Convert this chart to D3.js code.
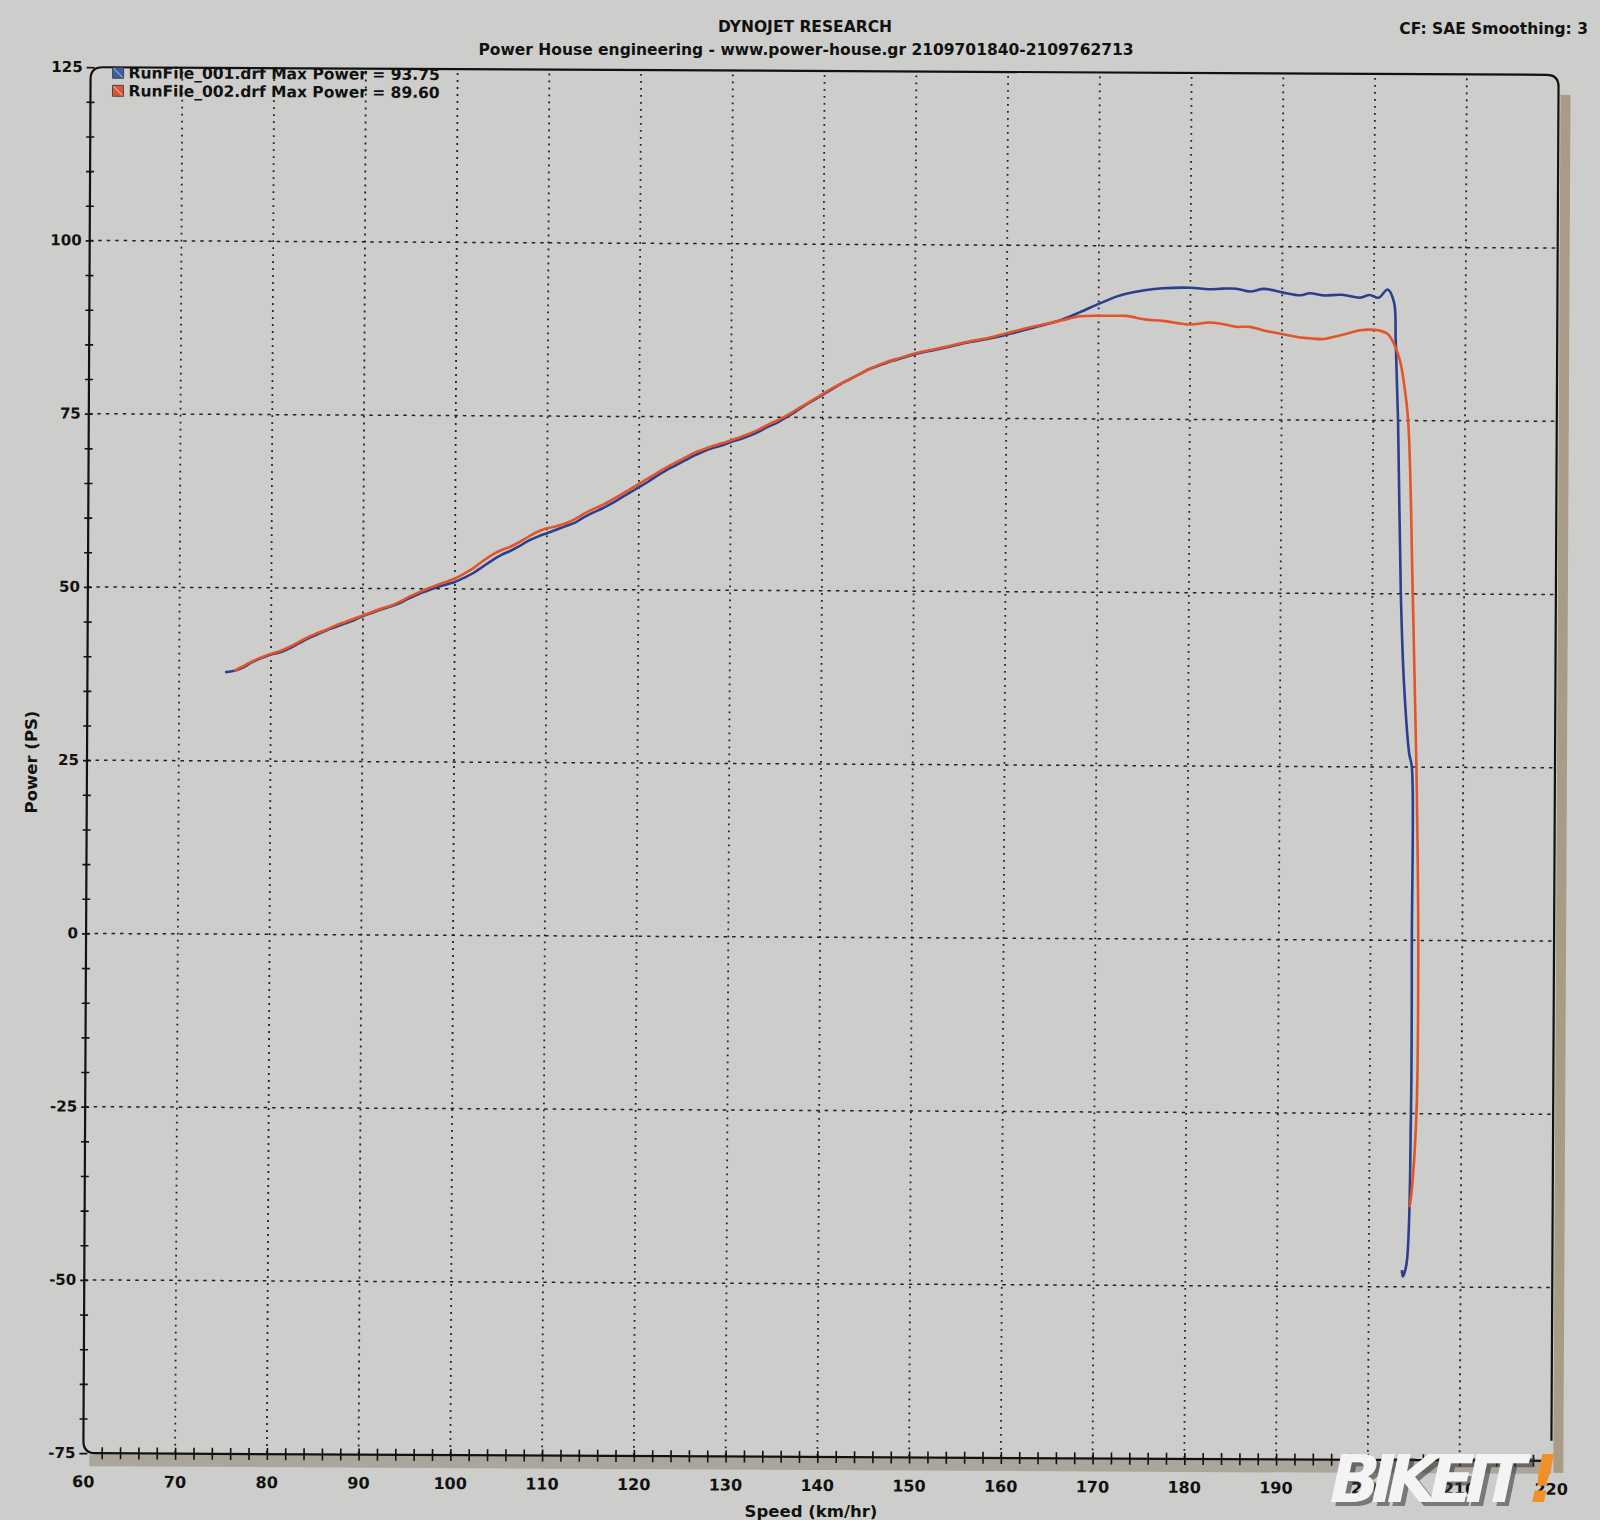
<!DOCTYPE html>
<html><head><meta charset="utf-8">
<script src="https://cdn.jsdelivr.net/npm/d3@7"></script>
<style>
html,body{margin:0;padding:0;background:#cdcecb;}
svg{display:block;}
text{font-family:"DejaVu Sans",sans-serif;font-weight:bold;fill:#111;}
</style></head><body>
<svg id="c" width="1600" height="1520"></svg>
<script>
// ---------- data ----------
const xTicks = [60,70,80,90,100,110,120,130,140,150,160,170,180,190,200,210,220];
const yTicks = [125,100,75,50,25,0,-25,-50,-75];
const legendLabels = ["RunFile_001.drf Max Power = 93.75","RunFile_002.drf Max Power = 89.60"];
const seriesColors = ["#2c3f8e","#e2542a"];

const run1Speed = [75,76,77,78,79,80,81,82,83,84,85,86,87,88,89,90,91,92,93,94,95,96,97,98,99,100,101,102,103,104,105,106,107,108,109,110,111,112,113,114,115,116,117,118,119,120,121,122,123,124,125,126,127,128,129,130,131,132,133,134,135,136,137,138,139,140,141,142,143,144,145,146,147,148,149,150,152,154,156,158,160,162,164,166,168,170,172,173,175,177,180,182,183.5,185,186.5,188,190,192,193,194.5,196.5,198.5,199.5,200.5,201.5,202.2,202.4,202.7,203.1,203.5,204.1,204.4,204.5,204.5,204.1,203.7,203.6];
const run1Power = [37.8,38.0,38.5,39.3,39.9,40.4,40.7,41.3,42.0,42.7,43.3,43.9,44.4,44.9,45.4,46.0,46.5,47.0,47.4,47.9,48.6,49.2,49.7,50.2,50.6,51.0,51.6,52.3,53.2,54.1,54.9,55.5,56.2,57.0,57.6,58.1,58.6,59.1,59.6,60.4,61.1,61.7,62.4,63.2,64.0,64.8,65.6,66.5,67.3,68.0,68.7,69.4,70.0,70.5,70.9,71.4,71.8,72.3,72.9,73.6,74.2,75.0,75.8,76.7,77.5,78.3,79.1,79.9,80.6,81.3,82.0,82.5,83.0,83.4,83.8,84.2,84.8,85.4,86.0,86.5,87.1,87.8,88.5,89.3,90.4,91.6,92.7,93.1,93.6,93.9,94.0,93.8,93.9,93.9,93.5,93.9,93.4,93.0,93.3,93.0,93.1,92.7,93.1,92.7,93.9,92.0,86.4,75,50,37,27,25,0,-25,-46.7,-48.5,-47.6];

const run2Speed = [76,77,78,79,80,81,82,83,84,85,86,87,88,89,90,91,92,93,94,95,96,97,98,99,100,101,102,103,104,105,106,107,108,109,110,111,112,113,114,115,116,117,118,119,120,121,122,123,124,125,126,127,128,129,130,131,132,133,134,135,136,137,138,139,140,141,142,143,144,145,146,147,148,149,150,152,154,156,158,160,162,164,166,168,170,172,173,175,177,180,182,183.5,185,186.5,188,190,192,193,194.5,196.5,198.5,199.5,200.5,201.5,202.2,202.9,203.3,203.8,204.4,204.9,205.2,205.1,204.6,204.4];
const run2Power = [38.0,38.7,39.4,40.0,40.5,40.9,41.5,42.2,42.9,43.5,44.0,44.6,45.1,45.6,46.1,46.6,47.1,47.5,48.1,48.8,49.4,50.0,50.5,51.0,51.5,52.2,53.0,54.0,54.9,55.6,56.1,56.8,57.6,58.3,58.8,59.1,59.5,60.1,60.9,61.6,62.2,62.9,63.7,64.5,65.3,66.1,66.9,67.7,68.4,69.1,69.8,70.3,70.8,71.2,71.6,72.1,72.6,73.2,73.9,74.5,75.2,76.0,76.8,77.6,78.4,79.2,79.9,80.6,81.3,82.0,82.6,83.1,83.5,83.9,84.3,84.9,85.5,86.1,86.6,87.3,88.0,88.6,89.2,89.8,89.9,89.9,89.9,89.4,89.2,88.7,89.0,88.8,88.4,88.4,87.9,87.4,86.9,86.8,86.7,87.3,88.0,88.1,88.0,87.5,86.1,83.5,80.6,75,50,25,0,-25,-36.5,-38.5];

// ---------- layout ----------
const svg = d3.select("#c");
const L = 87, R = 1555, T = 71, B = 1457;
const x = d3.scaleLinear().domain([60,220]).range([L,R]);
const y = d3.scaleLinear().domain([-75,125]).range([B,T]);

const g = svg.append("g").attr("transform","rotate(0.3,820,760)");

// shadows
g.append("rect").attr("x",L+6).attr("y",B+1).attr("width",R-L-6).attr("height",12).attr("fill","#aaa69d");
g.append("rect").attr("x",R+2).attr("y",T+20).attr("width",10).attr("height",B-T-8).attr("fill","#a89c86");

// grid
g.append("g").selectAll("line").data(xTicks.filter(d=>d>60&&d<220)).join("line")
  .attr("x1",d=>x(d)).attr("x2",d=>x(d)).attr("y1",T+4).attr("y2",B)
  .attr("stroke","#222").attr("stroke-width",1.8).attr("stroke-dasharray","1.8,5.2");
g.append("g").selectAll("line").data(yTicks.filter(d=>d>-75&&d<125)).join("line")
  .attr("x1",L).attr("x2",R).attr("y1",d=>y(d)).attr("y2",d=>y(d))
  .attr("stroke","#222").attr("stroke-width",1.5).attr("stroke-dasharray","3.5,5");

// axes
const yAxis = d3.axisLeft(y).tickValues(d3.range(-75,126,5)).tickSize(0).tickFormat("");
const ya = g.append("g").attr("transform",`translate(${L},0)`).call(yAxis);
ya.select(".domain").remove();
ya.selectAll(".tick").append("line").attr("x1",-4).attr("x2",4).attr("stroke","#111").attr("stroke-width",1.6);
const xAxis = d3.axisBottom(x).tickValues(d3.range(62,220,2)).tickSize(0).tickFormat("");
const xa = g.append("g").attr("transform",`translate(0,${B})`).call(xAxis);
xa.select(".domain").remove();
xa.selectAll(".tick").append("line").attr("y1",-6).attr("y2",6).attr("stroke","#111").attr("stroke-width",1.6);

// frame
const r = 12;
g.append("path").attr("fill","none").attr("stroke","#111").attr("stroke-width",2.2)
  .attr("d",`M${L+r},${B} L${R-6},${B} M${L},${T+r} L${L},${B-r} Q${L},${B} ${L+r},${B} M${L},${T+r} Q${L},${T} ${L+r},${T} L${R-r},${T} Q${R},${T} ${R},${T+r} L${R},${B-20}`);

// tick labels
g.append("g").selectAll("text").data(yTicks).join("text")
  .attr("x",L-8).attr("y",d=>y(d)+5).attr("text-anchor","end").attr("font-size",15).text(d=>d);
g.append("g").selectAll("text").data(xTicks).join("text")
  .attr("x",d=>x(d)).attr("y",B+34).attr("text-anchor","middle").attr("font-size",16).text(d=>d);

// lines
const line = d3.line().x(d=>x(d[0])).y(d=>y(d[1])).curve(d3.curveCatmullRom.alpha(0.5));
const run1 = run1Speed.map((s,i)=>[s,run1Power[i]]);
const run2 = run2Speed.map((s,i)=>[s,run2Power[i]]);
[run1,run2].forEach((data,i)=>{
  g.append("path").datum(data).attr("fill","none").attr("stroke",seriesColors[i])
    .attr("stroke-width",2.6).attr("stroke-linejoin","round").attr("d",line);
});

// legend
legendLabels.forEach((t,i)=>{
  const ly = 77 + i*18;
  g.append("rect").attr("x",109).attr("y",ly-6).attr("width",11).attr("height",11)
    .attr("fill",i===0?"#3b5ea6":"#d9563a").attr("stroke","#333").attr("stroke-width",0.8);
  g.append("line").attr("x1",110).attr("y1",ly-5).attr("x2",119).attr("y2",ly+4).attr("stroke",i===0?"#9cb2d8":"#f0b0a0").attr("stroke-width",1);
  g.append("text").attr("x",125).attr("y",ly+5).attr("font-size",15.5).text(t);
});

// titles
svg.append("text").attr("x",805).attr("y",32).attr("text-anchor","middle").attr("font-size",15.5).text("DYNOJET RESEARCH");
svg.append("text").attr("x",806).attr("y",55).attr("text-anchor","middle").attr("font-size",15.5).text("Power House engineering - www.power-house.gr 2109701840-2109762713");
svg.append("text").attr("x",1588).attr("y",34).attr("text-anchor","end").attr("font-size",15.5).text("CF: SAE  Smoothing: 3");
svg.append("text").attr("transform","translate(37,762) rotate(-90)").attr("text-anchor","middle").attr("font-size",16.5).text("Power (PS)");
svg.append("text").attr("x",811).attr("y",1517).attr("text-anchor","middle").attr("font-size",16.5).text("Speed (km/hr)");

// watermark
const wm = svg.append("g").attr("transform","translate(1325,1502) skewX(-12)");
wm.append("text").attr("x",5).attr("y",4).attr("font-family","Liberation Sans, Arial, sans-serif").attr("font-size",66).attr("font-weight","900")
  .style("fill","#333").style("opacity",0.55).attr("textLength",196).text("BIKEIT");
wm.append("text").attr("x",0).attr("y",0).attr("font-family","Liberation Sans, Arial, sans-serif").attr("font-size",66).attr("font-weight","900")
  .style("fill","#f4f4f4").attr("textLength",196).text("BIKEIT");
wm.append("text").attr("x",198).attr("y",0).attr("font-family","Liberation Sans, Arial, sans-serif").attr("font-size",66).attr("font-weight","900")
  .style("fill","#f0902a").text("!");
</script>
</body></html>
